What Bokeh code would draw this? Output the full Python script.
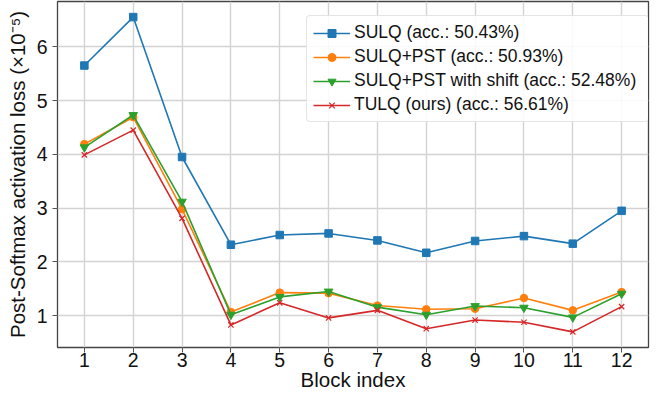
from bokeh.plotting import figure
from bokeh.models import Range1d, FixedTicker, Legend, LegendItem
from bokeh.embed import file_html
from bokeh.resources import INLINE

blocks = [1, 2, 3, 4, 5, 6, 7, 8, 9, 10, 11, 12]
sulq = [5.65, 6.55, 3.95, 2.32, 2.50, 2.53, 2.40, 2.17, 2.39, 2.48, 2.34, 2.95]
sulq_pst = [4.19, 4.69, 2.98, 1.07, 1.43, 1.42, 1.19, 1.12, 1.13, 1.33, 1.10, 1.44]
sulq_pst_shift = [4.13, 4.73, 3.12, 1.02, 1.35, 1.45, 1.16, 1.02, 1.18, 1.15, 0.97, 1.41]
tulq = [3.99, 4.45, 2.81, 0.83, 1.24, 0.96, 1.10, 0.76, 0.92, 0.88, 0.70, 1.17]
y_ticks = [1, 2, 3, 4, 5, 6]

labels = ["SULQ (acc.: 50.43%)", "SULQ+PST (acc.: 50.93%)",
          "SULQ+PST with shift (acc.: 52.48%)", "TULQ (ours) (acc.: 56.61%)"]
colors = ["#1f77b4", "#ff7f0e", "#2ca02c", "#d62728"]
markers = ["square", "circle", "inverted_triangle", "x"]
sizes = [7.5, 7.5, 8.5, 7.5]
series = [sulq, sulq_pst, sulq_pst_shift, tulq]

FONT = "Liberation Sans"

p = figure(width=656, height=393, output_backend="svg", toolbar_location=None,
           x_range=Range1d(0.45, 12.55), y_range=Range1d(0.41, 6.84),
           min_border_left=57, min_border_right=8, min_border_top=1, min_border_bottom=0)

p.background_fill_color = "white"
p.border_fill_color = "white"
p.outline_line_color = "#444444"
p.outline_line_width = 1.3

for ax in (p.xaxis, p.yaxis):
    ax.axis_line_color = None
    ax.major_tick_out = 5
    ax.major_tick_in = 0
    ax.major_tick_line_color = "#555555"
    ax.major_tick_line_width = 1
    ax.minor_tick_line_color = None
    ax.major_label_text_font = FONT
    ax.major_label_text_font_size = "19.5px"
    ax.major_label_text_color = "#111111"
    ax.axis_label_text_font = FONT
    ax.axis_label_text_font_size = "20.5px"
    ax.axis_label_text_font_style = "normal"
    ax.axis_label_text_color = "#111111"

p.xaxis.ticker = FixedTicker(ticks=blocks)
p.yaxis.ticker = FixedTicker(ticks=y_ticks)
p.xaxis.axis_label = "Block index"
p.yaxis.axis_label = "Post-Softmax activation loss (×10⁻⁵)"
p.xaxis.major_label_standoff = 0
p.xaxis.axis_label_standoff = -2
p.yaxis.major_label_standoff = 5
p.yaxis.axis_label_standoff = 5

p.grid.grid_line_color = "#d3d3d3"
p.grid.grid_line_width = 1.4

items = []
for ys, c, m, s, lab in zip(series, colors, markers, sizes, labels):
    ln = p.line(blocks, ys, line_color=c, line_width=1.6)
    if m == "x":
        sc = p.scatter(blocks, ys, marker=m, size=s, line_color=c, line_width=1.2)
    else:
        sc = p.scatter(blocks, ys, marker=m, size=s, fill_color=c, line_color=c)
    items.append(LegendItem(label=lab, renderers=[ln, sc]))

legend = Legend(items=items, location=(249, 225))
legend.label_text_font = FONT
legend.label_text_font_size = "17.5px"
legend.label_text_color = "#111111"
legend.glyph_width = 37
legend.glyph_height = 20
legend.label_standoff = 4
legend.label_width = 288
legend.spacing = 3
legend.padding = 6
legend.margin = 0
legend.border_line_color = "#cccccc"
legend.border_line_width = 1
legend.border_radius = 4
legend.background_fill_color = "white"
legend.background_fill_alpha = 0.85
p.add_layout(legend)

open("out.html", "w").write(file_html(p, INLINE))
